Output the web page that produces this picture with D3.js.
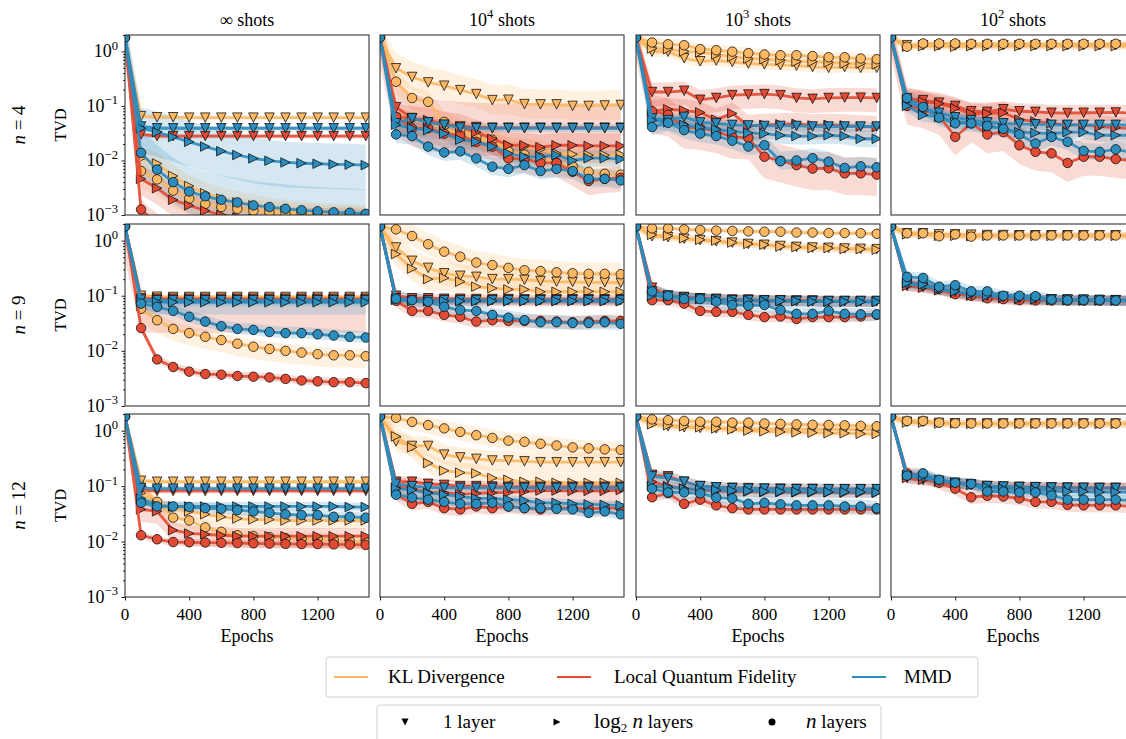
<!DOCTYPE html>
<html>
<head>
<meta charset="utf-8">
<script src="https://cdn.jsdelivr.net/npm/d3@7"></script>
<style>
  body { margin: 0; background: #fff; }
  svg text { font-family: 'Liberation Serif', 'DejaVu Serif', serif; fill: #000; }
</style>
</head>
<body>
<div id="container"></div>
<script>
// ---- data ----
const epochs = [0, 100, 200, 300, 400, 500, 600, 700, 800, 900, 1000, 1100, 1200, 1300, 1400, 1500]
const losses = ['KL Divergence', 'Local Quantum Fidelity', 'MMD']
const lossColors = ['#fdb863', '#e34a33', '#2b8cbe']
const depthShapes = ['down', 'right', 'circle']
const shotExp = ['∞', '4', '3', '2']
const qubits = [4, 9, 12]
const yTickValues = [1, 0.1, 0.01, 0.001]
const yTickExp = ['0', '−1', '−2', '−3']
const xTickValues = [0, 400, 800, 1200]

// series order in every panel: KL(1, log2n, n), LQF(1, log2n, n), MMD(1, log2n, n)
const tvd_n4_inf = [
  [1.8, 0.065, 0.062, 0.062, 0.061, 0.061, 0.061, 0.061, 0.061, 0.061, 0.061, 0.061, 0.061, 0.061, 0.061, 0.061],
  [1.8, 0.011, 0.0088, 0.0052, 0.0034, 0.0025, 0.002, 0.0017, 0.0015, 0.0013, 0.0012, 0.0011, 0.00105, 0.001, 0.00097, 0.00095],
  [1.8, 0.0064, 0.0045, 0.0028, 0.002, 0.0016, 0.0014, 0.0013, 0.0012, 0.00112, 0.00106, 0.001, 0.00096, 0.00093, 0.0009, 0.00088],
  [1.8, 0.03, 0.028, 0.028, 0.028, 0.028, 0.028, 0.028, 0.028, 0.028, 0.028, 0.028, 0.028, 0.028, 0.028, 0.028],
  [1.8, 0.0046, 0.0031, 0.0019, 0.0015, 0.0012, 0.001, 0.0009, 0.00085, 0.0008, 0.00078, 0.00076, 0.00075, 0.00074, 0.00073, 0.00072],
  [1.8, 0.00126, 0.0007, 0.0006, 0.00055, 0.0005, 0.0005, 0.0005, 0.0005, 0.0005, 0.0005, 0.0005, 0.0005, 0.0005, 0.0005, 0.0005],
  [1.8, 0.042, 0.039, 0.039, 0.039, 0.039, 0.039, 0.039, 0.039, 0.039, 0.039, 0.039, 0.039, 0.039, 0.039, 0.039],
  [1.8, 0.039, 0.033, 0.027, 0.022, 0.018, 0.0148, 0.0126, 0.0109, 0.0099, 0.0092, 0.0089, 0.0087, 0.0085, 0.0084, 0.0082],
  [1.8, 0.0138, 0.0068, 0.004, 0.0027, 0.0022, 0.0019, 0.0017, 0.0015, 0.0014, 0.0013, 0.00122, 0.00117, 0.00112, 0.0011, 0.00105]
]
const tvd_n4_1e4 = [
  [1.8, 0.49, 0.34, 0.27, 0.235, 0.195, 0.165, 0.128, 0.13, 0.108, 0.107, 0.107, 0.1, 0.1, 0.102, 0.104],
  [1.8, 0.07, 0.055, 0.05, 0.04, 0.03, 0.025, 0.022, 0.019, 0.018, 0.016, 0.0135, 0.013, 0.0125, 0.0125, 0.0128],
  [1.8, 0.278, 0.14, 0.119, 0.051, 0.036, 0.027, 0.024, 0.0147, 0.0128, 0.011, 0.0091, 0.0078, 0.0062, 0.0057, 0.0055],
  [1.8, 0.095, 0.06, 0.05, 0.045, 0.042, 0.041, 0.04, 0.04, 0.04, 0.04, 0.04, 0.04, 0.04, 0.04, 0.04],
  [1.8, 0.065, 0.058, 0.055, 0.046, 0.042, 0.033, 0.025, 0.019, 0.019, 0.0175, 0.019, 0.019, 0.0185, 0.0185, 0.0185],
  [1.8, 0.063, 0.0387, 0.039, 0.031, 0.029, 0.022, 0.018, 0.0109, 0.0107, 0.009, 0.009, 0.0062, 0.0042, 0.0046, 0.0048],
  [1.8, 0.048, 0.059, 0.05, 0.045, 0.04, 0.039, 0.039, 0.039, 0.039, 0.039, 0.039, 0.039, 0.039, 0.039, 0.039],
  [1.8, 0.045, 0.039, 0.036, 0.031, 0.024, 0.022, 0.018, 0.0135, 0.0117, 0.0117, 0.0125, 0.01, 0.011, 0.011, 0.0106],
  [1.8, 0.03, 0.028, 0.018, 0.014, 0.0147, 0.0109, 0.0077, 0.007, 0.0082, 0.0064, 0.007, 0.0064, 0.0046, 0.0046, 0.0043]
]
const tvd_n4_1e3 = [
  [1.8, 0.99, 0.99, 0.75, 0.66, 0.68, 0.64, 0.6, 0.58, 0.56, 0.55, 0.52, 0.5, 0.52, 0.5, 0.5],
  [1.8, 1.13, 1.1, 1.0, 0.96, 0.88, 0.8, 0.74, 0.72, 0.69, 0.65, 0.65, 0.63, 0.6, 0.6, 0.58],
  [1.8, 1.46, 1.35, 1.3, 1.1, 1.05, 0.99, 0.93, 0.88, 0.85, 0.85, 0.82, 0.78, 0.78, 0.74, 0.72],
  [1.8, 0.18, 0.18, 0.19, 0.13, 0.14, 0.158, 0.162, 0.165, 0.158, 0.14, 0.135, 0.14, 0.142, 0.142, 0.14],
  [1.8, 0.08, 0.087, 0.083, 0.076, 0.056, 0.073, 0.043, 0.045, 0.046, 0.047, 0.044, 0.045, 0.044, 0.042, 0.041],
  [1.8, 0.08, 0.069, 0.041, 0.039, 0.034, 0.027, 0.026, 0.0117, 0.0099, 0.0082, 0.0071, 0.0072, 0.0058, 0.0058, 0.0055],
  [1.8, 0.059, 0.055, 0.063, 0.05, 0.048, 0.045, 0.044, 0.043, 0.043, 0.043, 0.042, 0.042, 0.042, 0.042, 0.042],
  [1.8, 0.055, 0.05, 0.045, 0.04, 0.037, 0.034, 0.032, 0.031, 0.029, 0.028, 0.028, 0.029, 0.028, 0.025, 0.025],
  [1.8, 0.041, 0.049, 0.036, 0.031, 0.028, 0.023, 0.018, 0.019, 0.0097, 0.01, 0.011, 0.0095, 0.0073, 0.0078, 0.0075]
]
const tvd_n4_1e2 = [
  [1.8, 1.3, 1.3, 1.3, 1.28, 1.3, 1.3, 1.3, 1.3, 1.3, 1.3, 1.3, 1.3, 1.3, 1.3, 1.3],
  [1.8, 1.22, 1.25, 1.25, 1.22, 1.25, 1.25, 1.25, 1.25, 1.25, 1.25, 1.25, 1.25, 1.25, 1.25, 1.25],
  [1.8, 1.22, 1.4, 1.4, 1.4, 1.38, 1.38, 1.38, 1.38, 1.38, 1.38, 1.38, 1.38, 1.38, 1.38, 1.38],
  [1.8, 0.137, 0.128, 0.115, 0.1, 0.08, 0.078, 0.087, 0.08, 0.078, 0.075, 0.074, 0.075, 0.075, 0.076, 0.074],
  [1.8, 0.13, 0.12, 0.11, 0.09, 0.072, 0.072, 0.075, 0.056, 0.052, 0.048, 0.045, 0.045, 0.042, 0.04, 0.039],
  [1.8, 0.1, 0.087, 0.066, 0.027, 0.048, 0.03, 0.033, 0.019, 0.0144, 0.0135, 0.009, 0.0117, 0.0117, 0.0106, 0.01],
  [1.8, 0.12, 0.09, 0.075, 0.062, 0.055, 0.05, 0.048, 0.047, 0.046, 0.045, 0.045, 0.045, 0.045, 0.045, 0.045],
  [1.8, 0.1, 0.068, 0.063, 0.051, 0.049, 0.042, 0.039, 0.033, 0.032, 0.031, 0.033, 0.033, 0.029, 0.029, 0.029],
  [1.8, 0.14, 0.096, 0.061, 0.048, 0.048, 0.043, 0.038, 0.03, 0.0205, 0.027, 0.022, 0.015, 0.0144, 0.016, 0.014]
]
const tvd_n9_inf = [
  [1.8, 0.1, 0.096, 0.095, 0.095, 0.095, 0.095, 0.095, 0.095, 0.095, 0.095, 0.095, 0.095, 0.095, 0.095, 0.095],
  [1.8, 0.095, 0.092, 0.091, 0.09, 0.09, 0.09, 0.09, 0.09, 0.09, 0.09, 0.09, 0.09, 0.09, 0.09, 0.09],
  [1.8, 0.058, 0.036, 0.025, 0.021, 0.018, 0.0157, 0.0135, 0.0119, 0.0108, 0.01, 0.0093, 0.0087, 0.0083, 0.0083, 0.008],
  [1.8, 0.09, 0.088, 0.088, 0.088, 0.088, 0.088, 0.088, 0.088, 0.088, 0.088, 0.088, 0.088, 0.088, 0.088, 0.088],
  [1.8, 0.086, 0.085, 0.085, 0.085, 0.085, 0.085, 0.085, 0.085, 0.085, 0.085, 0.085, 0.085, 0.085, 0.085, 0.085],
  [1.8, 0.026, 0.007, 0.0051, 0.0042, 0.0038, 0.0037, 0.0035, 0.0034, 0.0033, 0.0031, 0.0029, 0.0028, 0.0027, 0.0027, 0.0026],
  [1.8, 0.085, 0.083, 0.083, 0.083, 0.083, 0.083, 0.083, 0.083, 0.083, 0.083, 0.083, 0.083, 0.083, 0.083, 0.083],
  [1.8, 0.078, 0.077, 0.076, 0.076, 0.076, 0.076, 0.076, 0.076, 0.076, 0.076, 0.076, 0.076, 0.076, 0.076, 0.076],
  [1.8, 0.072, 0.063, 0.053, 0.0415, 0.034, 0.028, 0.025, 0.024, 0.022, 0.021, 0.021, 0.02, 0.019, 0.018, 0.0175]
]
const tvd_n9_1e4 = [
  [1.8, 0.75, 0.43, 0.32, 0.255, 0.23, 0.22, 0.2, 0.2, 0.195, 0.185, 0.18, 0.178, 0.175, 0.175, 0.172],
  [1.8, 0.57, 0.31, 0.2, 0.21, 0.18, 0.146, 0.137, 0.13, 0.13, 0.118, 0.118, 0.118, 0.12, 0.118, 0.118],
  [1.8, 1.6, 1.21, 0.86, 0.63, 0.51, 0.4, 0.36, 0.32, 0.29, 0.28, 0.266, 0.255, 0.25, 0.25, 0.245],
  [1.8, 0.1, 0.09, 0.09, 0.088, 0.088, 0.087, 0.087, 0.087, 0.086, 0.086, 0.086, 0.086, 0.086, 0.086, 0.086],
  [1.8, 0.085, 0.08, 0.08, 0.08, 0.08, 0.08, 0.08, 0.08, 0.08, 0.08, 0.08, 0.08, 0.08, 0.08, 0.08],
  [1.8, 0.081, 0.053, 0.053, 0.045, 0.0415, 0.034, 0.036, 0.035, 0.035, 0.035, 0.034, 0.033, 0.034, 0.035, 0.035],
  [1.8, 0.09, 0.083, 0.083, 0.083, 0.083, 0.083, 0.083, 0.083, 0.083, 0.083, 0.083, 0.083, 0.083, 0.083, 0.083],
  [1.8, 0.085, 0.08, 0.08, 0.08, 0.08, 0.08, 0.08, 0.08, 0.08, 0.08, 0.08, 0.08, 0.08, 0.08, 0.08],
  [1.8, 0.088, 0.083, 0.078, 0.063, 0.055, 0.053, 0.045, 0.04, 0.036, 0.033, 0.033, 0.032, 0.032, 0.033, 0.031]
]
const tvd_n9_1e3 = [
  [1.8, 1.2, 1.15, 1.08, 1.02, 0.97, 0.92, 0.87, 0.84, 0.8, 0.77, 0.75, 0.74, 0.72, 0.71, 0.7],
  [1.8, 1.27, 1.22, 1.1, 1.03, 1.0, 0.92, 0.87, 0.84, 0.78, 0.76, 0.73, 0.73, 0.7, 0.7, 0.68],
  [1.8, 1.67, 1.67, 1.6, 1.56, 1.52, 1.5, 1.47, 1.45, 1.45, 1.4, 1.4, 1.37, 1.37, 1.36, 1.33],
  [1.8, 0.14, 0.1, 0.095, 0.09, 0.088, 0.085, 0.085, 0.083, 0.083, 0.082, 0.082, 0.08, 0.08, 0.08, 0.08],
  [1.8, 0.13, 0.1, 0.092, 0.088, 0.085, 0.082, 0.082, 0.08, 0.08, 0.08, 0.08, 0.078, 0.078, 0.078, 0.078],
  [1.8, 0.083, 0.083, 0.072, 0.053, 0.051, 0.051, 0.045, 0.041, 0.042, 0.038, 0.041, 0.041, 0.041, 0.042, 0.045],
  [1.8, 0.12, 0.1, 0.092, 0.088, 0.085, 0.083, 0.083, 0.082, 0.082, 0.08, 0.08, 0.08, 0.08, 0.08, 0.08],
  [1.8, 0.1, 0.095, 0.09, 0.087, 0.085, 0.083, 0.082, 0.08, 0.08, 0.08, 0.078, 0.078, 0.078, 0.077, 0.077],
  [1.8, 0.12, 0.1, 0.087, 0.087, 0.078, 0.068, 0.066, 0.068, 0.055, 0.047, 0.047, 0.053, 0.047, 0.046, 0.046]
]
const tvd_n9_1e2 = [
  [1.8, 1.36, 1.36, 1.3, 1.3, 1.28, 1.26, 1.26, 1.25, 1.25, 1.25, 1.25, 1.25, 1.25, 1.25, 1.25],
  [1.8, 1.3, 1.3, 1.22, 1.22, 1.2, 1.22, 1.22, 1.22, 1.22, 1.22, 1.22, 1.22, 1.22, 1.22, 1.22],
  [1.8, 1.36, 1.36, 1.2, 1.3, 1.18, 1.24, 1.24, 1.24, 1.24, 1.24, 1.24, 1.24, 1.24, 1.24, 1.24],
  [1.8, 0.15, 0.145, 0.13, 0.115, 0.105, 0.1, 0.095, 0.09, 0.088, 0.086, 0.085, 0.084, 0.083, 0.083, 0.082],
  [1.8, 0.15, 0.14, 0.125, 0.112, 0.1, 0.095, 0.09, 0.086, 0.085, 0.084, 0.083, 0.082, 0.082, 0.082, 0.082],
  [1.8, 0.18, 0.16, 0.135, 0.107, 0.1, 0.09, 0.087, 0.083, 0.082, 0.082, 0.082, 0.082, 0.082, 0.082, 0.08],
  [1.8, 0.16, 0.15, 0.13, 0.118, 0.105, 0.1, 0.095, 0.09, 0.088, 0.086, 0.085, 0.085, 0.084, 0.083, 0.083],
  [1.8, 0.17, 0.16, 0.135, 0.12, 0.108, 0.1, 0.095, 0.09, 0.087, 0.085, 0.084, 0.083, 0.083, 0.082, 0.082],
  [1.8, 0.22, 0.21, 0.146, 0.155, 0.12, 0.12, 0.1, 0.1, 0.098, 0.085, 0.083, 0.083, 0.083, 0.082, 0.082]
]
const tvd_n12_inf = [
  [1.8, 0.125, 0.12, 0.12, 0.12, 0.12, 0.12, 0.12, 0.12, 0.12, 0.12, 0.12, 0.12, 0.12, 0.12, 0.12],
  [1.8, 0.075, 0.05, 0.04, 0.035, 0.031, 0.028, 0.026, 0.025, 0.025, 0.024, 0.024, 0.024, 0.024, 0.024, 0.024],
  [1.8, 0.098, 0.052, 0.027, 0.024, 0.018, 0.015, 0.013, 0.0125, 0.012, 0.0115, 0.011, 0.011, 0.0105, 0.0102, 0.0098],
  [1.8, 0.085, 0.082, 0.082, 0.082, 0.082, 0.082, 0.082, 0.082, 0.082, 0.082, 0.082, 0.082, 0.082, 0.082, 0.082],
  [1.8, 0.038, 0.035, 0.016, 0.014, 0.0135, 0.013, 0.0125, 0.0125, 0.0125, 0.0125, 0.0125, 0.0125, 0.0125, 0.0125, 0.0125],
  [1.8, 0.013, 0.011, 0.0098, 0.0097, 0.0096, 0.0095, 0.0094, 0.0093, 0.0092, 0.0091, 0.009, 0.009, 0.0089, 0.0088, 0.0087],
  [1.8, 0.092, 0.09, 0.09, 0.09, 0.09, 0.09, 0.09, 0.09, 0.09, 0.09, 0.09, 0.09, 0.09, 0.09, 0.09],
  [1.8, 0.06, 0.045, 0.043, 0.043, 0.043, 0.043, 0.043, 0.043, 0.043, 0.043, 0.043, 0.043, 0.043, 0.042, 0.042],
  [1.8, 0.05, 0.043, 0.043, 0.042, 0.04, 0.039, 0.037, 0.035, 0.033, 0.031, 0.03, 0.03, 0.028, 0.028, 0.027]
]
const tvd_n12_1e4 = [
  [1.8, 0.64, 0.53, 0.53, 0.37, 0.33, 0.31, 0.29, 0.29, 0.28, 0.27, 0.27, 0.27, 0.27, 0.27, 0.27],
  [1.8, 0.79, 0.5, 0.26, 0.19, 0.175, 0.17, 0.14, 0.13, 0.12, 0.12, 0.115, 0.115, 0.115, 0.115, 0.115],
  [1.8, 1.71, 1.44, 1.26, 1.1, 0.95, 0.83, 0.74, 0.66, 0.63, 0.58, 0.54, 0.5, 0.48, 0.46, 0.45],
  [1.8, 0.12, 0.12, 0.11, 0.105, 0.1, 0.1, 0.098, 0.097, 0.097, 0.097, 0.097, 0.097, 0.097, 0.097, 0.097],
  [1.8, 0.097, 0.09, 0.077, 0.076, 0.072, 0.074, 0.076, 0.077, 0.08, 0.083, 0.083, 0.082, 0.082, 0.082, 0.085],
  [1.8, 0.072, 0.048, 0.052, 0.04, 0.038, 0.043, 0.04, 0.043, 0.04, 0.038, 0.04, 0.04, 0.039, 0.04, 0.04],
  [1.8, 0.11, 0.1, 0.095, 0.093, 0.093, 0.093, 0.093, 0.093, 0.093, 0.093, 0.093, 0.093, 0.093, 0.093, 0.093],
  [1.8, 0.09, 0.085, 0.075, 0.07, 0.065, 0.06, 0.06, 0.057, 0.055, 0.05, 0.05, 0.048, 0.047, 0.046, 0.045],
  [1.8, 0.07, 0.062, 0.057, 0.052, 0.048, 0.048, 0.05, 0.043, 0.04, 0.04, 0.039, 0.038, 0.033, 0.035, 0.031]
]
const tvd_n12_1e3 = [
  [1.8, 1.4, 1.2, 1.15, 1.12, 1.1, 1.1, 1.08, 1.07, 1.07, 1.06, 1.06, 1.05, 1.05, 1.05, 1.05],
  [1.8, 1.3, 1.25, 1.2, 1.15, 1.1, 1.05, 1.0, 0.97, 0.95, 0.93, 0.92, 0.9, 0.9, 0.88, 0.87],
  [1.8, 1.6, 1.55, 1.5, 1.45, 1.45, 1.4, 1.4, 1.35, 1.33, 1.3, 1.28, 1.27, 1.25, 1.22, 1.2],
  [1.8, 0.16, 0.15, 0.12, 0.1, 0.095, 0.093, 0.092, 0.09, 0.09, 0.089, 0.089, 0.088, 0.088, 0.088, 0.088],
  [1.8, 0.12, 0.1, 0.09, 0.085, 0.082, 0.08, 0.08, 0.078, 0.078, 0.077, 0.077, 0.077, 0.076, 0.076, 0.076],
  [1.8, 0.063, 0.075, 0.048, 0.057, 0.045, 0.04, 0.038, 0.038, 0.038, 0.038, 0.038, 0.038, 0.038, 0.038, 0.038],
  [1.8, 0.15, 0.14, 0.12, 0.1, 0.095, 0.092, 0.09, 0.09, 0.088, 0.088, 0.088, 0.088, 0.088, 0.088, 0.088],
  [1.8, 0.1, 0.095, 0.09, 0.087, 0.085, 0.083, 0.082, 0.08, 0.08, 0.079, 0.079, 0.078, 0.078, 0.078, 0.077],
  [1.8, 0.09, 0.077, 0.077, 0.074, 0.062, 0.06, 0.048, 0.05, 0.047, 0.045, 0.045, 0.045, 0.043, 0.043, 0.04]
]
const tvd_n12_1e2 = [
  [1.8, 1.45, 1.45, 1.38, 1.36, 1.35, 1.35, 1.35, 1.35, 1.35, 1.35, 1.35, 1.35, 1.35, 1.35, 1.35],
  [1.8, 1.4, 1.4, 1.35, 1.35, 1.33, 1.33, 1.33, 1.33, 1.33, 1.33, 1.33, 1.33, 1.33, 1.33, 1.33],
  [1.8, 1.5, 1.5, 1.4, 1.36, 1.35, 1.35, 1.35, 1.35, 1.35, 1.35, 1.35, 1.35, 1.35, 1.35, 1.35],
  [1.8, 0.14, 0.13, 0.12, 0.11, 0.105, 0.1, 0.098, 0.097, 0.096, 0.095, 0.094, 0.093, 0.093, 0.093, 0.093],
  [1.8, 0.14, 0.13, 0.12, 0.115, 0.11, 0.1, 0.095, 0.095, 0.094, 0.093, 0.093, 0.092, 0.092, 0.092, 0.092],
  [1.8, 0.17, 0.16, 0.115, 0.09, 0.063, 0.067, 0.065, 0.06, 0.052, 0.052, 0.046, 0.045, 0.045, 0.045, 0.043],
  [1.8, 0.15, 0.14, 0.125, 0.115, 0.108, 0.1, 0.098, 0.096, 0.095, 0.094, 0.093, 0.093, 0.092, 0.092, 0.092],
  [1.8, 0.16, 0.15, 0.13, 0.115, 0.105, 0.095, 0.09, 0.088, 0.085, 0.083, 0.08, 0.08, 0.078, 0.078, 0.078],
  [1.8, 0.155, 0.17, 0.13, 0.115, 0.11, 0.08, 0.08, 0.077, 0.077, 0.068, 0.057, 0.057, 0.057, 0.057, 0.055]
]

// spread of the shaded band around each series: [lower factor, upper factor]
const band_n4_inf = [[0.92, 1.1], [0.5, 1.6], [0.5, 1.6], [0.9, 1.1], [0.5, 1.8], [0.6, 1.5], [0.9, 1.1], [0.35, 2.4], [0.4, 2.8]]
const band_n4_1e4 = [[0.55, 1.9], [0.7, 1.4], [0.6, 1.6], [0.3, 2.8], [0.5, 1.7], [0.55, 1.6], [0.85, 1.2], [0.7, 1.4], [0.7, 1.5]]
const band_n4_1e3 = [[0.8, 1.25], [0.8, 1.25], [0.8, 1.25], [0.55, 1.5], [0.55, 1.6], [0.4, 2.0], [0.8, 1.2], [0.7, 1.4], [0.7, 1.5]]
const band_n4_1e2 = [[0.85, 1.15], [0.85, 1.15], [0.85, 1.15], [0.7, 1.4], [0.6, 1.6], [0.45, 2.2], [0.8, 1.25], [0.75, 1.35], [0.7, 1.4]]
const band_n9_inf = [[0.9, 1.1], [0.9, 1.1], [0.6, 1.35], [0.85, 1.12], [0.25, 1.15], [0.85, 1.2], [0.55, 1.12], [0.85, 1.12], [0.8, 1.3]]
const band_n9_1e4 = [[0.6, 1.6], [0.6, 1.5], [0.65, 1.6], [0.8, 1.2], [0.8, 1.2], [0.75, 1.3], [0.85, 1.15], [0.85, 1.15], [0.75, 1.35]]
const band_n9_1e3 = [[0.85, 1.2], [0.85, 1.2], [0.9, 1.15], [0.8, 1.25], [0.8, 1.25], [0.8, 1.25], [0.8, 1.25], [0.8, 1.25], [0.75, 1.3]]
const band_n9_1e2 = [[0.85, 1.15], [0.85, 1.15], [0.85, 1.15], [0.8, 1.2], [0.8, 1.2], [0.8, 1.25], [0.8, 1.2], [0.8, 1.2], [0.8, 1.25]]
const band_n12_inf = [[0.9, 1.12], [0.7, 1.3], [0.7, 1.35], [0.9, 1.12], [0.6, 1.4], [0.85, 1.15], [0.9, 1.12], [0.85, 1.2], [0.8, 1.25]]
const band_n12_1e4 = [[0.65, 1.5], [0.65, 1.5], [0.7, 1.4], [0.8, 1.25], [0.6, 1.5], [0.75, 1.3], [0.85, 1.15], [0.8, 1.2], [0.8, 1.25]]
const band_n12_1e3 = [[0.85, 1.15], [0.85, 1.15], [0.85, 1.15], [0.8, 1.25], [0.8, 1.25], [0.8, 1.25], [0.8, 1.25], [0.8, 1.25], [0.75, 1.35]]
const band_n12_1e2 = [[0.85, 1.15], [0.85, 1.15], [0.85, 1.15], [0.8, 1.25], [0.8, 1.25], [0.75, 1.3], [0.8, 1.25], [0.8, 1.25], [0.8, 1.25]]

const panels = [
  [tvd_n4_inf, tvd_n4_1e4, tvd_n4_1e3, tvd_n4_1e2],
  [tvd_n9_inf, tvd_n9_1e4, tvd_n9_1e3, tvd_n9_1e2],
  [tvd_n12_inf, tvd_n12_1e4, tvd_n12_1e3, tvd_n12_1e2]
]
const bands = [
  [band_n4_inf, band_n4_1e4, band_n4_1e3, band_n4_1e2],
  [band_n9_inf, band_n9_1e4, band_n9_1e3, band_n9_1e2],
  [band_n12_inf, band_n12_1e4, band_n12_1e3, band_n12_1e2]
]

// ---- layout ----
let width = 1126, height = 739
let colX = [125, 380, 636, 891], panelW = 244
let rowTop = [35, 224, 414], rowBot = [215, 406, 597]
let mSize = 9.5
let serif = "'Liberation Serif', 'DejaVu Serif', serif"

let svg = d3.select('#container').append('svg')
  .attr('width', width).attr('height', height)
  .attr('font-family', serif)

function markerPath(shape, s) {
  let h = s / 2
  if (shape === 'down') return `M${-h},${-h}L${h},${-h}L0,${h}Z`
  if (shape === 'right') return `M${-h},${-h}L${h},0L${-h},${h}Z`
  return d3.symbol(d3.symbolCircle, Math.PI * h * h)()
}

function powText(sel, base, exp, size) {
  sel.append('tspan').text(base)
  sel.append('tspan').text(exp).attr('font-size', size * 0.7).attr('dy', -size * 0.42)
}

function addText(x, y, size) {
  return svg.append('text').attr('x', x).attr('y', y)
    .attr('font-size', size).attr('font-family', serif)
}

panels.forEach((row, ri) => {
  row.forEach((series, ci) => {
    let x = d3.scaleLinear().domain([0, 1520]).range([colX[ci], colX[ci] + panelW])
    let y = d3.scaleLog().domain([1e-3, 2]).range([rowBot[ri], rowTop[ri]])
    let clipId = 'clip' + ri + ci
    svg.append('clipPath').attr('id', clipId).append('rect')
      .attr('x', colX[ci]).attr('y', rowTop[ri])
      .attr('width', panelW).attr('height', rowBot[ri] - rowTop[ri])

    let g = svg.append('g').attr('clip-path', 'url(#' + clipId + ')')
    let bnd = bands[ri][ci]

    // shaded bands
    series.forEach((vals, k) => {
      let area = d3.area()
        .x((d, i) => x(epochs[i]))
        .y0(d => y(d * bnd[k][0]))
        .y1(d => y(d * bnd[k][1]))
      g.append('path').attr('d', area(vals))
        .attr('fill', lossColors[Math.floor(k / 3)]).attr('fill-opacity', 0.2)
    })

    // lines + markers
    let line = d3.line().x((d, i) => x(epochs[i])).y(d => y(d))
    series.forEach((vals, k) => {
      let color = lossColors[Math.floor(k / 3)]
      let shape = depthShapes[k % 3]
      g.append('path').attr('d', line(vals))
        .attr('fill', 'none').attr('stroke', color)
        .attr('stroke-width', 2.8).attr('stroke-opacity', 0.9)
        .attr('stroke-linejoin', 'round')
      g.selectAll(null).data(vals).enter().append('path')
        .attr('d', markerPath(shape, mSize))
        .attr('transform', (d, i) => 'translate(' + x(epochs[i]) + ',' + y(d) + ')')
        .attr('fill', color).attr('stroke', '#111').attr('stroke-width', 0.8)
    })

    // frame
    svg.append('rect')
      .attr('x', colX[ci]).attr('y', rowTop[ri])
      .attr('width', panelW).attr('height', rowBot[ri] - rowTop[ri])
      .attr('fill', 'none').attr('stroke', '#222').attr('stroke-width', 1)

    if (ci === 0) {
      let major = svg.append('g').attr('transform', 'translate(' + colX[0] + ',0)')
        .call(d3.axisLeft(y).tickValues(yTickValues).tickSize(3.5).tickFormat(''))
      major.select('.domain').remove()
      let minor = svg.append('g').attr('transform', 'translate(' + colX[0] + ',0)')
        .call(d3.axisLeft(y).tickValues(y.ticks().filter(v => yTickValues.indexOf(v) < 0)).tickSize(2).tickFormat(''))
      minor.select('.domain').remove()
      svg.selectAll('.tick line').attr('stroke', '#222')

      yTickValues.forEach((v, i) => {
        let t = addText(118, y(v) + 6, 18).attr('text-anchor', 'end')
        powText(t, '10', yTickExp[i], 18)
      })
      addText(0, 0, 16).attr('transform', 'translate(66,' + (rowTop[ri] + rowBot[ri]) / 2 + ') rotate(-90)')
        .attr('text-anchor', 'middle').text('TVD')
      let lab = addText(0, 0, 19)
        .attr('transform', 'translate(25,' + (rowTop[ri] + rowBot[ri]) / 2 + ') rotate(-90)')
        .attr('text-anchor', 'middle')
      lab.append('tspan').attr('font-style', 'italic').text('n')
      lab.append('tspan').text(' = ' + qubits[ri])
    }

    if (ri === 2) {
      let xa = svg.append('g').attr('transform', 'translate(0,' + rowBot[2] + ')')
        .call(d3.axisBottom(x).tickValues(xTickValues).tickSize(3.5).tickFormat(''))
      xa.select('.domain').remove()
      xa.selectAll('line').attr('stroke', '#222')
      xTickValues.forEach(v => {
        addText(x(v), rowBot[2] + 23, 17).attr('text-anchor', 'middle').text(v)
      })
      addText(colX[ci] + panelW / 2, 642, 18).attr('text-anchor', 'middle').text('Epochs')
    }

    if (ri === 0) {
      let t = addText(colX[ci] + panelW / 2, 26, 18).attr('text-anchor', 'middle')
      if (ci === 0) t.text('∞ shots')
      else {
        powText(t, '10', shotExp[ci], 18)
        t.append('tspan').attr('dy', 18 * 0.42).text(' shots')
      }
    }
  })
})

// ---- legends ----
let leg1 = svg.append('g')
leg1.append('rect').attr('x', 326).attr('y', 657).attr('width', 652).attr('height', 40)
  .attr('rx', 3).attr('fill', '#fff').attr('stroke', '#d0d0d0')
let leg1Line = [334, 557, 852], leg1Text = [388, 614, 904]
losses.forEach((name, i) => {
  leg1.append('line').attr('x1', leg1Line[i]).attr('x2', leg1Line[i] + 34)
    .attr('y1', 677).attr('y2', 677).attr('stroke', lossColors[i]).attr('stroke-width', 2)
  addText(leg1Text[i], 683, 19).text(name)
})

let leg2 = svg.append('g')
leg2.append('rect').attr('x', 377).attr('y', 705).attr('width', 504).attr('height', 40)
  .attr('rx', 3).attr('fill', '#fff').attr('stroke', '#d0d0d0')
let leg2Mark = [405, 557, 772], leg2Text = [443, 594, 806]
depthShapes.forEach((shape, i) => {
  leg2.append('path').attr('d', markerPath(shape, 7))
    .attr('transform', 'translate(' + leg2Mark[i] + ',722)').attr('fill', '#000')
})
addText(leg2Text[0], 728, 19).text('1 layer')
let lg = addText(leg2Text[1], 728, 19)
lg.append('tspan').attr('font-size', 21).text('log')
lg.append('tspan').attr('font-size', 13).attr('dy', 4).text('2')
lg.append('tspan').attr('dy', -4).attr('font-size', 21).attr('font-style', 'italic').text(' n')
lg.append('tspan').text(' layers')
let ln = addText(leg2Text[2], 728, 19)
ln.append('tspan').attr('font-size', 21).attr('font-style', 'italic').text('n')
ln.append('tspan').text(' layers')
</script>
</body>
</html>
